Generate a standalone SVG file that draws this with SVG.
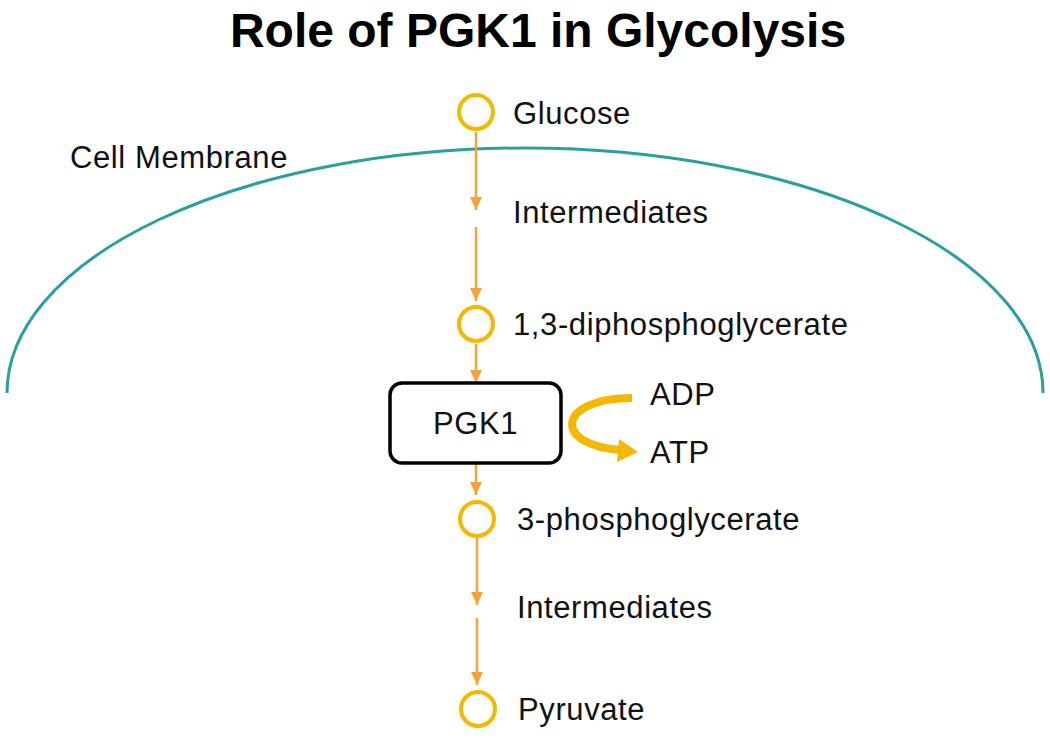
<svg xmlns="http://www.w3.org/2000/svg" width="1050" height="739" viewBox="0 0 1050 739">
  <style>
    .lbl { font-family: "Liberation Sans", Arial, sans-serif; font-size: 31px; letter-spacing: 0.6px; fill: #111; }
    .title { font-family: "Liberation Sans", Arial, sans-serif; font-size: 48px; font-weight: bold; fill: #000; }
    .met { fill: none; stroke: #F5B800; stroke-width: 4; }
    .flow { stroke: #F2A33A; stroke-width: 2.5; fill: none; }
  </style>
  <defs>
    <marker id="ah" markerUnits="userSpaceOnUse" markerWidth="14" markerHeight="14" viewBox="0 0 14 14" refX="13" refY="7" orient="auto">
      <path d="M0,1 L13,7 L0,13 Z" fill="#F2A33A"/>
    </marker>
  </defs>
  <rect width="1050" height="739" fill="#fff"/>
  <text class="title" x="538" y="47" text-anchor="middle">Role of PGK1 in Glycolysis</text>

  <g id="membrane">
    <path d="M7,393 A518,245 0 0 1 1043,393" fill="none" stroke="#2A9FA0" stroke-width="3"/>
    <text class="lbl" x="70" y="168">Cell Membrane</text>
  </g>

  <g id="connectors">
    <line class="flow" x1="476" y1="132" x2="476" y2="210" marker-end="url(#ah)"/>
    <line class="flow" x1="476" y1="227" x2="476" y2="301" marker-end="url(#ah)"/>
    <line class="flow" x1="476" y1="344" x2="476" y2="383" marker-end="url(#ah)"/>
    <line class="flow" x1="476" y1="464" x2="476" y2="495" marker-end="url(#ah)"/>
    <line class="flow" x1="477" y1="538" x2="477" y2="605" marker-end="url(#ah)"/>
    <line class="flow" x1="477" y1="618" x2="477" y2="685" marker-end="url(#ah)"/>
    <g id="adp-atp">
      <path d="M632,398 C556,398 552,446 622,450" fill="none" stroke="#F5B800" stroke-width="8"/>
      <polygon points="619,439 638,452 617,462" fill="#F5B800"/>
    </g>
  </g>

  <g id="glucose">
    <circle class="met" cx="476" cy="112" r="17"/>
    <text class="lbl" x="513" y="124">Glucose</text>
  </g>
  <g id="intermediates1">
    <text class="lbl" x="513" y="223">Intermediates</text>
  </g>
  <g id="bpg">
    <circle class="met" cx="476" cy="324" r="17"/>
    <text class="lbl" x="513" y="335">1,3-diphosphoglycerate</text>
  </g>
  <g id="pgk1">
    <rect x="390" y="383" width="171" height="80" rx="12" fill="#fff" stroke="#000" stroke-width="3.5"/>
    <text class="lbl" x="475.5" y="434" text-anchor="middle">PGK1</text>
  </g>
  <g id="adp">
    <text class="lbl" x="650" y="405">ADP</text>
  </g>
  <g id="atp">
    <text class="lbl" x="650" y="463">ATP</text>
  </g>
  <g id="pg3">
    <circle class="met" cx="477" cy="519" r="17"/>
    <text class="lbl" x="517" y="530">3-phosphoglycerate</text>
  </g>
  <g id="intermediates2">
    <text class="lbl" x="517" y="618">Intermediates</text>
  </g>
  <g id="pyruvate">
    <circle class="met" cx="478" cy="709" r="17"/>
    <text class="lbl" x="518" y="720">Pyruvate</text>
  </g>
</svg>
